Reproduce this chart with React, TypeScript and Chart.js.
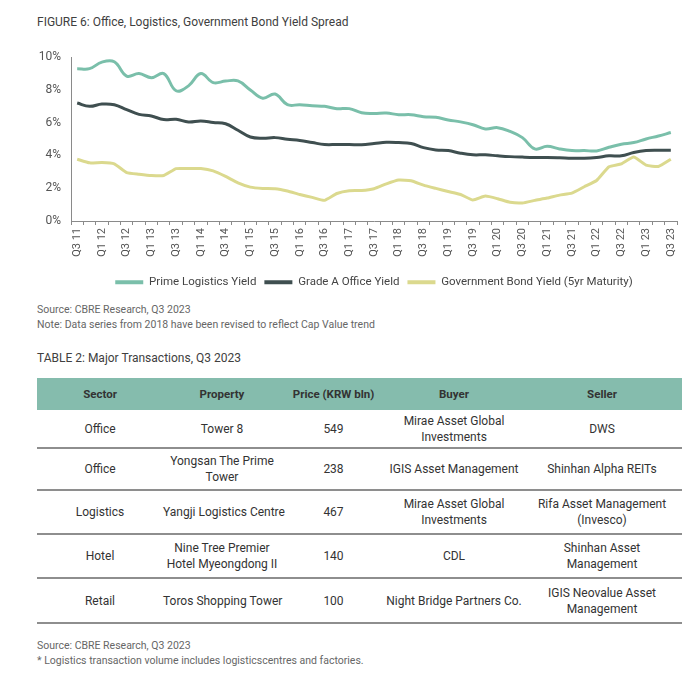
import React, { useEffect, useRef } from "react";
import { Chart, registerables } from "chart.js";

Chart.register(...registerables);

const quarters = [
  "Q3 11", "Q4 11", "Q1 12", "Q2 12", "Q3 12", "Q4 12", "Q1 13", "Q2 13",
  "Q3 13", "Q4 13", "Q1 14", "Q2 14", "Q3 14", "Q4 14", "Q1 15", "Q2 15",
  "Q3 15", "Q4 15", "Q1 16", "Q2 16", "Q3 16", "Q4 16", "Q1 17", "Q2 17",
  "Q3 17", "Q4 17", "Q1 18", "Q2 18", "Q3 18", "Q4 18", "Q1 19", "Q2 19",
  "Q3 19", "Q4 19", "Q1 20", "Q2 20", "Q3 20", "Q4 20", "Q1 21", "Q2 21",
  "Q3 21", "Q4 21", "Q1 22", "Q2 22", "Q3 22", "Q4 22", "Q1 23", "Q2 23",
  "Q3 23",
];

const primeLogistics = [
  9.3, 9.3, 9.7, 9.72, 8.85, 9.0, 8.75, 9.0, 7.95, 8.25, 9.0, 8.45, 8.54,
  8.55, 8.0, 7.5, 7.75, 7.1, 7.1, 7.04, 7.0, 6.86, 6.86, 6.61, 6.57, 6.59,
  6.49, 6.49, 6.37, 6.33, 6.17, 6.05, 5.88, 5.62, 5.7, 5.47, 5.09, 4.4,
  4.56, 4.4, 4.3, 4.3, 4.28, 4.5, 4.69, 4.79, 5.01, 5.19, 5.4,
];

const gradeAOffice = [
  7.2, 7.0, 7.14, 7.1, 6.8, 6.51, 6.41, 6.19, 6.21, 6.05, 6.11, 6.02, 5.94,
  5.54, 5.13, 5.05, 5.09, 4.99, 4.91, 4.79, 4.67, 4.67, 4.67, 4.66, 4.73,
  4.81, 4.79, 4.73, 4.48, 4.34, 4.3, 4.14, 4.04, 4.04, 3.98, 3.93, 3.9,
  3.88, 3.88, 3.86, 3.83, 3.83, 3.88, 3.98, 3.98, 4.18, 4.3, 4.32, 4.32,
];

const govBond = [
  3.77, 3.55, 3.57, 3.49, 2.96, 2.86, 2.78, 2.78, 3.2, 3.2, 3.2, 3.06, 2.72,
  2.33, 2.07, 1.99, 1.97, 1.83, 1.62, 1.44, 1.26, 1.68, 1.85, 1.86, 1.97,
  2.27, 2.5, 2.46, 2.19, 1.99, 1.8, 1.62, 1.28, 1.52, 1.36, 1.14, 1.1, 1.26,
  1.4, 1.58, 1.7, 2.09, 2.47, 3.31, 3.49, 3.91, 3.41, 3.33, 3.77,
];

const seriesNames = [
  "Prime Logistics Yield",
  "Grade A Office Yield",
  "Government Bond Yield (5yr Maturity)",
];

const yTicks = [0, 2, 4, 6, 8, 10];

const tableHeaders = ["Sector", "Property", "Price (KRW bln)", "Buyer", "Seller"];
const sectors = ["Office", "Office", "Logistics", "Hotel", "Retail"];
const properties = [
  "Tower 8",
  "Yongsan The Prime\nTower",
  "Yangji Logistics Centre",
  "Nine Tree Premier\nHotel Myeongdong II",
  "Toros Shopping Tower",
];
const prices = ["549", "238", "467", "140", "100"];
const buyers = [
  "Mirae Asset Global\nInvestments",
  "IGIS Asset Management",
  "Mirae Asset Global\nInvestments",
  "CDL",
  "Night Bridge Partners Co.",
];
const sellers = [
  "DWS",
  "Shinhan Alpha REITs",
  "Rifa Asset Management\n(Invesco)",
  "Shinhan Asset\nManagement",
  "IGIS Neovalue Asset\nManagement",
];

const FONT = "Roboto, 'Noto Sans', sans-serif";
const TEAL = "#7abfaa";
const DARK = "#3f4f50";
const YELLOW = "#dbd98e";
const HEADER_BG = "#85bcad";

function YieldChart() {
  const ref = useRef<HTMLCanvasElement | null>(null);
  useEffect(() => {
    if (!ref.current) return;
    const centerLegend = {
      id: "centerLegend",
      afterLayout(chart: any) {
        if (chart.legend && chart.chartArea) {
          chart.legend.left = chart.chartArea.left;
          chart.legend.right = chart.chartArea.right;
        }
      },
    };
    const chart = new Chart(ref.current, {
      type: "line",
      data: {
        labels: quarters,
        datasets: [
          {
            label: seriesNames[0],
            data: primeLogistics,
            borderColor: TEAL,
            backgroundColor: TEAL,
            borderWidth: 3,
            pointRadius: 0,
            tension: 0.4,
          },
          {
            label: seriesNames[1],
            data: gradeAOffice,
            borderColor: DARK,
            backgroundColor: DARK,
            borderWidth: 3,
            pointRadius: 0,
            tension: 0.4,
          },
          {
            label: seriesNames[2],
            data: govBond,
            borderColor: YELLOW,
            backgroundColor: YELLOW,
            borderWidth: 3,
            pointRadius: 0,
            tension: 0.15,
          },
        ],
      },
      options: {
        animation: false,
        responsive: false,
        maintainAspectRatio: false,
        layout: { padding: { top: 3.8, right: 19, left: 0, bottom: 0 } },
        plugins: {
          tooltip: { enabled: false },
          legend: {
            position: "bottom",
            labels: {
              color: "#444",
              font: { family: FONT, size: 11.5 },
              boxWidth: 28,
              boxHeight: 4,
              padding: 8,
              generateLabels: (c: any) =>
                (Chart.defaults.plugins.legend.labels as any)
                  .generateLabels(c)
                  .map((l: any) => ({ ...l, lineWidth: 0, fillStyle: l.strokeStyle })),
            },
          },
        },
        scales: {
          x: {
            type: "category",
            offset: true,
            grid: {
              offset: true,
              drawOnChartArea: false,
              drawTicks: true,
              tickLength: 4,
              color: "#8a8a8a",
            },
            border: { color: "#8a8a8a", width: 1 },
            ticks: {
              autoSkip: false,
              maxRotation: 90,
              minRotation: 90,
              padding: 3,
              color: "#555",
              font: { family: FONT, size: 11 },
              callback: (_v: any, i: number) => (i % 2 === 0 ? quarters[i] : ""),
            },
            afterFit: (s: any) => {
              s.height = 47.5;
            },
          },
          y: {
            min: yTicks[0],
            max: yTicks[yTicks.length - 1],
            grid: { drawOnChartArea: false, drawTicks: false },
            border: { color: "#8a8a8a", width: 1 },
            ticks: {
              stepSize: 2,
              padding: 10,
              color: "#555",
              font: { family: FONT, size: 12 },
              callback: (v: any) => v + "%",
            },
            afterFit: (s: any) => {
              s.width = 71;
            },
          },
        },
      },
      plugins: [centerLegend],
    });
    return () => chart.destroy();
  }, []);
  return (
    <canvas
      ref={ref}
      width={696}
      height={258}
      style={{ position: "absolute", left: 0, top: 40, width: 696, height: 258 }}
    />
  );
}

const rowHeights = [38, 42, 44, 44, 45];
const colWidths = [126, 118, 105, 136, 160];

export default function App() {
  const small: React.CSSProperties = {
    position: "absolute",
    left: 37,
    fontSize: 10.5,
    lineHeight: "15px",
    color: "#666",
    whiteSpace: "nowrap",
  };
  const cell: React.CSSProperties = {
    textAlign: "center",
    verticalAlign: "middle",
    padding: 0,
    whiteSpace: "pre",
    fontSize: 12,
    lineHeight: "16px",
    color: "#333",
  };
  return (
    <div
      style={{
        position: "absolute",
        left: 0,
        top: 0,
        width: 696,
        height: 673,
        background: "#fff",
        fontFamily: FONT,
        overflow: "hidden",
      }}
    >
      <div
        style={{
          position: "absolute",
          left: 37,
          top: 14,
          fontSize: 12,
          lineHeight: "16px",
          color: "#404040",
          whiteSpace: "nowrap",
        }}
      >
        FIGURE 6: Office, Logistics, Government Bond Yield Spread
      </div>
      <YieldChart />
      <div style={{ ...small, top: 302 }}>
        Source: CBRE Research, Q3 2023
        <br />
        Note: Data series from 2018 have been revised to reflect Cap Value trend
      </div>
      <div
        style={{
          position: "absolute",
          left: 37,
          top: 350,
          fontSize: 12,
          lineHeight: "16px",
          color: "#404040",
          whiteSpace: "nowrap",
        }}
      >
        TABLE 2: Major Transactions, Q3 2023
      </div>
      <table
        style={{
          position: "absolute",
          left: 37,
          top: 378,
          width: 645,
          borderCollapse: "collapse",
          tableLayout: "fixed",
          fontFamily: FONT,
        }}
      >
        <colgroup>
          {colWidths.map((w, i) => (
            <col key={i} style={{ width: w }} />
          ))}
        </colgroup>
        <thead>
          <tr style={{ background: HEADER_BG, height: 32 }}>
            {tableHeaders.map((h) => (
              <th key={h} style={{ ...cell, fontWeight: 700, color: "#333", fontSize: 11.5 }}>
                {h}
              </th>
            ))}
          </tr>
        </thead>
        <tbody>
          {sectors.map((s, i) => (
            <tr
              key={i}
              style={{ height: rowHeights[i], borderBottom: "2px solid #8e8e8e" }}
            >
              <td style={cell}>{s}</td>
              <td style={cell}>{properties[i]}</td>
              <td style={cell}>{prices[i]}</td>
              <td style={cell}>{buyers[i]}</td>
              <td style={cell}>{sellers[i]}</td>
            </tr>
          ))}
        </tbody>
      </table>
      <div style={{ ...small, top: 638 }}>
        Source: CBRE Research, Q3 2023
        <br />* Logistics transaction volume includes logisticscentres and factories.
      </div>
    </div>
  );
}
